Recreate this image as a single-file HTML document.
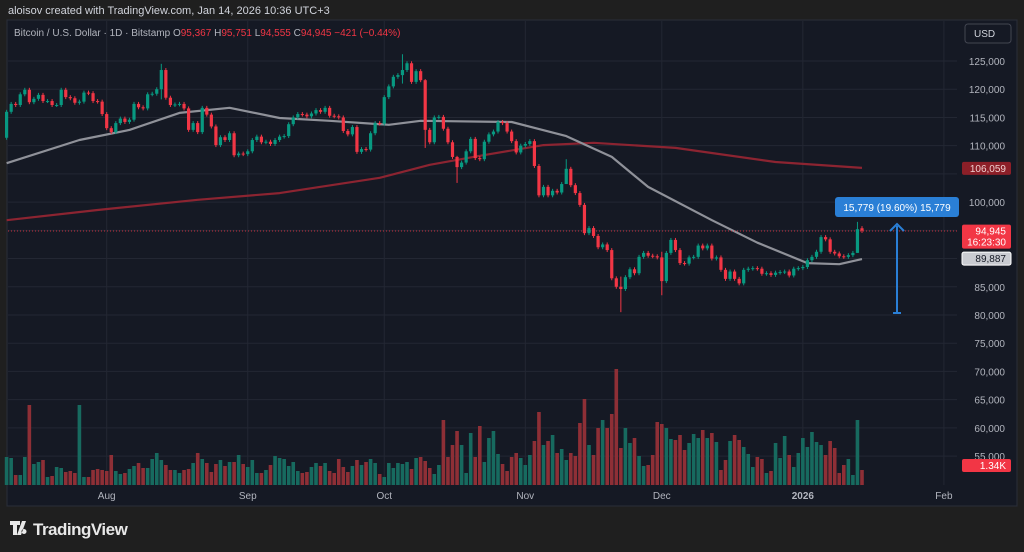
<!DOCTYPE html>
<html><head><meta charset="utf-8"><style>
html,body{margin:0;padding:0;background:#1f1f1f;}
svg{display:block;font-family:"Liberation Sans",sans-serif;}
</style></head><body>
<svg id="chart" width="1024" height="552" viewBox="0 0 1024 552">
<rect x="0" y="0" width="1024" height="552" fill="#1f1f1f"/>
<text x="8" y="14" font-size="11" fill="#d1d4dc">aloisov created with TradingView.com, Jan 14, 2026 10:36 UTC+3</text>
<rect x="7" y="20" width="1010" height="486" fill="#151924" stroke="#2a2e39" stroke-width="1"/>
<g id="grid"></g>
<g id="volumes"></g>
<g id="mas"></g>
<line x1="8" x2="957" y1="231" y2="231" stroke="#f23645" stroke-width="1" stroke-dasharray="1,2" opacity="0.8"/>
<g id="candles"></g>
<g id="yaxis"></g>
<g id="xaxis"></g>
<text x="14" y="36" font-size="10" fill="#b2b5be">Bitcoin / U.S. Dollar · 1D · Bitstamp <tspan fill="#b2b5be">O</tspan><tspan fill="#f23645">95,367</tspan> <tspan fill="#b2b5be">H</tspan><tspan fill="#f23645">95,751</tspan> <tspan fill="#b2b5be">L</tspan><tspan fill="#f23645">94,555</tspan> <tspan fill="#b2b5be">C</tspan><tspan fill="#f23645">94,945</tspan> <tspan fill="#f23645">−421 (−0.44%)</tspan></text>
<g><rect x="965" y="24" width="46" height="19" rx="3" fill="#151924" stroke="#434651"/><text x="974" y="37" font-size="10" fill="#d1d4dc">USD</text></g>
<g>
<rect x="835" y="197" width="124" height="20" rx="3" fill="#2a7fd6"/>
<text x="897" y="211" font-size="10" fill="#ffffff" text-anchor="middle">15,779 (19.60%) 15,779</text>
<line x1="897" y1="226" x2="897" y2="313" stroke="#2a7fd6" stroke-width="2"/>
<polyline points="890,231 897,224 904,231" fill="none" stroke="#2a7fd6" stroke-width="2"/>
<line x1="893" y1="313" x2="901" y2="313" stroke="#2a7fd6" stroke-width="2"/>
</g>
<g>
<path d="M10 521h10v4h-3v10h-4v-10h-3z M22 521h4l-5 14h-4z M24 529a2.5 2.5 0 1 0 0.01 0z" fill="#e8e8e8"/>
<text x="33" y="535" font-size="17" font-weight="bold" fill="#e8e8e8" letter-spacing="-0.5">TradingView</text>
</g>
</svg>
<script>
const closes=[116.0,117.4,117.2,119.1,119.9,117.7,118.3,119.0,117.9,117.9,117.2,117.2,119.9,118.6,118.4,117.6,117.8,119.4,119.3,117.9,117.8,115.6,113.1,112.4,114.0,114.8,114.2,114.6,117.4,116.8,116.6,119.1,119.2,120.0,123.4,118.5,117.2,117.3,117.4,116.6,112.8,114.0,112.4,116.7,115.5,113.4,110.1,111.5,111.0,112.2,108.3,108.6,108.5,109.0,111.0,111.6,110.6,110.7,110.3,111.0,111.6,111.7,
113.8,115.0,115.6,115.5,115.2,115.7,116.3,116.0,116.7,115.3,115.2,115.0,112.6,112.0,113.3,108.9,109.4,109.3,112.2,114.0,113.9,118.6,120.5,122.2,122.5,123.4,124.6,121.3,123.2,121.6,112.8,110.6,115.0,115.1,113.0,110.6,108.0,106.2,107.0,109.0,111.2,107.8,107.6,110.7,112.0,112.5,114.2,114.0,112.5,110.8,108.8,110.0,110.3,110.8,106.4,101.2,102.7,101.2,102.0,101.7,103.2,
105.9,103.0,101.6,99.5,94.5,95.4,94.0,92.0,92.5,91.5,86.5,85.0,84.6,86.7,88.1,87.4,90.3,91.0,90.5,90.4,90.2,86.0,91.0,93.3,91.5,89.2,89.1,90.2,90.3,92.3,91.8,92.3,90.0,90.2,88.0,86.4,87.7,86.4,85.6,88.0,88.2,88.3,88.2,87.3,87.4,87.1,87.5,87.6,87.7,87.0,88.2,88.3,88.5,89.7,90.3,91.2,93.8,93.4,91.2,90.9,90.4,90.3,90.6,91.0,95.2,94.945];
const firstOpen=111.4;
const wickIdx=[34,87,92,99,123,135,144,187,188];
const wickHigh=[124.5,126.2,121.8,108.2,107.6,86.8,91.2,96.5,95.751];
const wickLow=[118.2,121.0,109.6,103.4,103.5,80.5,83.5,91.0,94.555];
const volumes=[28,27,10,10,28,80,21,23,25,8,9,18,17,13,14,12,80,8,8,15,16,15,14,30,14,11,12,16,19,22,17,17,26,32,25,20,15,15,12,15,16,22,32,26,22,13,21,25,19,23,23,30,21,18,25,12,12,15,20,29,27,26,19,23,14,12,13,18,22,19,22,14,12,26,18,13,19,25,20,23,26,22,11,8,22,17,22,21,23,16,27,28,24,17,11,20,65,28,40,54,40,12,52,28,59,23,47,54,31,21,14,28,32,27,20,30,44,73,40,44,50,32,36,25,32,29,62,86,40,30,57,65,57,71,116,37,57,42,47,29,19,20,30,63,61,57,46,45,50,35,42,51,47,55,47,52,43,15,25,44,50,45,38,31,18,28,26,12,14,42,27,49,30,18,32,47,38,53,43,40,30,44,37,12,20,26,10,65,15];
const ma50Idx=[0,16,27,38,49,60,71,84,91,111,123,133,141,155,165,176,183,188];
const ma50Val=[106.9,111.0,112.8,115.8,116.7,114.9,114.4,113.7,114.4,114.2,111.7,108.0,102.7,96.8,92.8,89.2,89.0,89.9];
const ma200Idx=[0,20,42,60,82,93,104,118,129,147,169,188];
const ma200Val=[96.8,98.6,100.4,101.6,104.3,106.6,108.2,110.1,110.5,109.6,107.1,106.06];
const priceTicks=[125,120,115,110,100,85,80,75,70,65,60,55];
const gridTicks=[125,120,115,110,105,100,95,90,85,80,75,70,65,60,55];
const timeLabels=["Aug","Sep","Oct","Nov","Dec","2026","Feb"];
const timeOffsets=[-166,-135,-105,-74,-44,-13,18];

const NS="http://www.w3.org/2000/svg";
const N=closes.length, xLast=862, step=4.55;
function xS(i){return xLast-(N-1-i)*step;}
function yS(p){return 61+(125-p)*5.644;}
function vY(v){return 485-v*1.0;}
function mk(tag,attrs,parent){const e=document.createElementNS(NS,tag);for(const k in attrs)e.setAttribute(k,attrs[k]);parent.appendChild(e);return e;}
const grid=document.getElementById('grid'),cg=document.getElementById('candles'),vg=document.getElementById('volumes'),mg=document.getElementById('mas'),ya=document.getElementById('yaxis'),xa=document.getElementById('xaxis');
gridTicks.forEach(p=>{const l=mk('line',{x1:8,x2:957,y1:yS(p),y2:yS(p),stroke:'#232733','stroke-width':1},grid);

});
timeOffsets.forEach((o,k)=>{const x=xLast+o*step;
const l=mk('line',{x1:x,x2:x,y1:21,y2:485,stroke:'#232733','stroke-width':1},grid);


const t=mk('text',{x:x,y:499,'font-size':10,fill:'#b2b5be','text-anchor':'middle','font-weight':timeLabels[k]==='2026'?'bold':'normal'},xa);
t.textContent=timeLabels[k];

});
priceTicks.forEach(p=>{const t=mk('text',{x:1005,y:yS(p)+4,'font-size':10,fill:'#b2b5be','text-anchor':'end'},ya);
t.textContent=(p*1000).toLocaleString('en-US');

});
for(let i=0;i<N;i++){
 const c=closes[i],o=i===0?firstOpen:(i===N-1?95.367:closes[i-1]);
 let h=Math.max(o,c)+0.35,l=Math.min(o,c)-0.35;
 const w=wickIdx.indexOf(i); if(w>=0){h=wickHigh[w];l=wickLow[w];}
 const up=c>=o,col=up?'#089981':'#f23645',x=xS(i);
 const wl=mk('line',{x1:x,x2:x,y1:yS(h),y2:yS(l),stroke:col,'stroke-width':1},cg);
 
 
 const yt=yS(Math.max(o,c)),yb=yS(Math.min(o,c));
 const b=mk('rect',{x:x-1.6,y:yt,width:3.2,height:Math.max(1,yb-yt),fill:col},cg);
 
 
 const v=volumes[i]||0;
 const vb=mk('rect',{x:x-1.8,y:vY(v),width:3.6,height:v,fill:up?'#176a5f':'#8e2f36'},vg);
 
 
}
function maPath(idx,val){let d='';for(let k=0;k<idx.length;k++)d+=(k?'L':'M')+xS(idx[k]).toFixed(1)+' '+yS(val[k]).toFixed(1);return d;}
const m2=mk('path',{d:maPath(ma200Idx,ma200Val),fill:'none',stroke:'#8c2431','stroke-width':2.2,'stroke-linejoin':'round'},mg);


const m1=mk('path',{d:maPath(ma50Idx,ma50Val),fill:'none',stroke:'#8f9199','stroke-width':2.2,'stroke-linejoin':'round'},mg);


function tag(y,h,fill,lines,tc,name,stroke){const g=mk('g',{},ya);


mk('rect',{x:962,y:y,width:49,height:h,rx:2,fill:fill,stroke:stroke||'none'},g);
lines.forEach((s,k)=>{const t=mk('text',{x:1006,y:y+10+k*11,'font-size':10,fill:tc,'text-anchor':'end'},g);t.textContent=s;});}
tag(yS(ma200Val[ma200Val.length-1])-6,13,'#8c1f28',['106,059'],'#f0d0d0','ma200-price-tag');
tag(yS(closes[N-1])-6,24,'#f23645',['94,945','16:23:30'],'#ffffff','last-price-tag');
tag(yS(ma50Val[ma50Val.length-1])-7,13,'#c9cbd1',['89,887'],'#131722','ma50-price-tag','#ffffff');
tag(459,13,'#f23645',['1.34K'],'#ffffff','volume-tag');
</script>
</body></html>
